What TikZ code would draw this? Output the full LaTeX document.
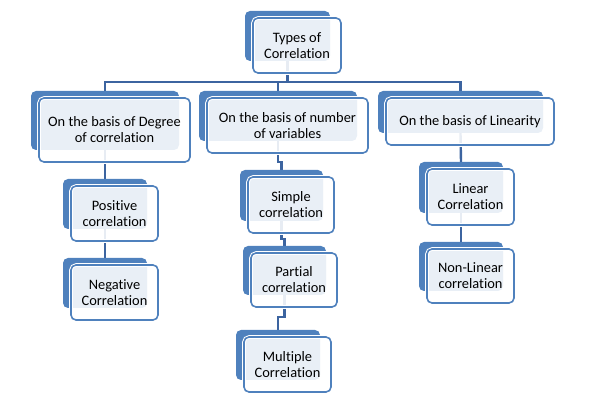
\documentclass[tikz,border=0pt]{standalone}
\usepackage{fontspec}
\setmainfont{Carlito}[Ligatures={NoCommon,NoRare,NoContextual}]
\usetikzlibrary{backgrounds}
\definecolor{blusmart}{RGB}{79,129,189}
\definecolor{bluline}{RGB}{60,100,160}
\tikzset{
  retro/.style={fill=blusmart, rounded corners=5pt, inner sep=0pt},
  fronte/.style={draw=blusmart, line width=1.6pt, fill=white, fill opacity=0.88, text opacity=1,
    preaction={draw=white, line width=3.6pt}, rounded corners=5pt, align=center, inner sep=0pt,
    font=\fontsize{14.4}{16}\selectfont},
  linea/.style={draw=bluline, line width=2.4pt},
}
% casella: nome, x1, y1, x2, y2, testo
\newcommand{\casella}[6]{%
  \node[retro, minimum width=#4-#2-3, minimum height=#5-#3-5] (#1r) at ({(#2+#4)/2-9.5},{(#3+#5)/2-9.5}) {};
  \node[fronte, minimum width=#4-#2, minimum height=#5-#3] (#1) at ({(#2+#4)/2},{(#3+#5)/2}) {#6};
}
\begin{document}
\begin{tikzpicture}[x=1pt,y=-1pt]
        \useasboundingbox (0,0) rectangle (605,419);
        % radice
        \casella{tipi}{253}{18}{341}{73}{Types of\\Correlation}
        % primo livello
        \casella{grado}{39}{98}{190}{162}{On the basis of Degree\\of correlation}
        \casella{numero}{207}{98}{368}{153}{On the basis of number\\of variables}
        \casella{lineare}{386}{98}{554}{145}{On the basis of Linearity}
        % colonna sinistra
        \casella{pos}{71}{186}{158}{241}{Positive\\correlation}
        \casella{neg}{71}{265}{158}{320}{Negative\\Correlation}
        % colonna centrale
        \casella{semp}{248}{177}{334}{233}{Simple\\correlation}
        \casella{parz}{251}{253}{337}{307}{Partial\\correlation}
        \casella{mult}{244}{337}{331}{392}{Multiple\\Correlation}
        % colonna destra
        \casella{lin}{427}{169}{514}{225}{Linear\\Correlation}
        \casella{nonlin}{427}{249}{514}{303}{Non-Linear\\correlation}
        % collegamenti
        \begin{pgfonlayer}{background}
        \draw[linea] (tipir.south) -- ++(0,21);
        \draw[linea] (grador.north) -- ++(0,-9) -| (linearer.north);
        \draw[linea] (numeror.north) -- ++(0,-9);
        \draw[linea] (grador.south) -- (posr.north);\draw[linea] (posr.south) -- (negr.north);
        \draw[linea] (numeror.south) -- ++(0,21) -| (sempr.north);
        \draw[linea] (sempr.south) -- ++(0,18) -| (parzr.north);
        \draw[linea] (parzr.south) -- ++(0,22) -| (multr.north);
        \draw[linea] (linearer.south) -- (linr.north);\draw[linea] (linr.south) -- (nonlinr.north);
        \end{pgfonlayer}
\end{tikzpicture}
\end{document}
